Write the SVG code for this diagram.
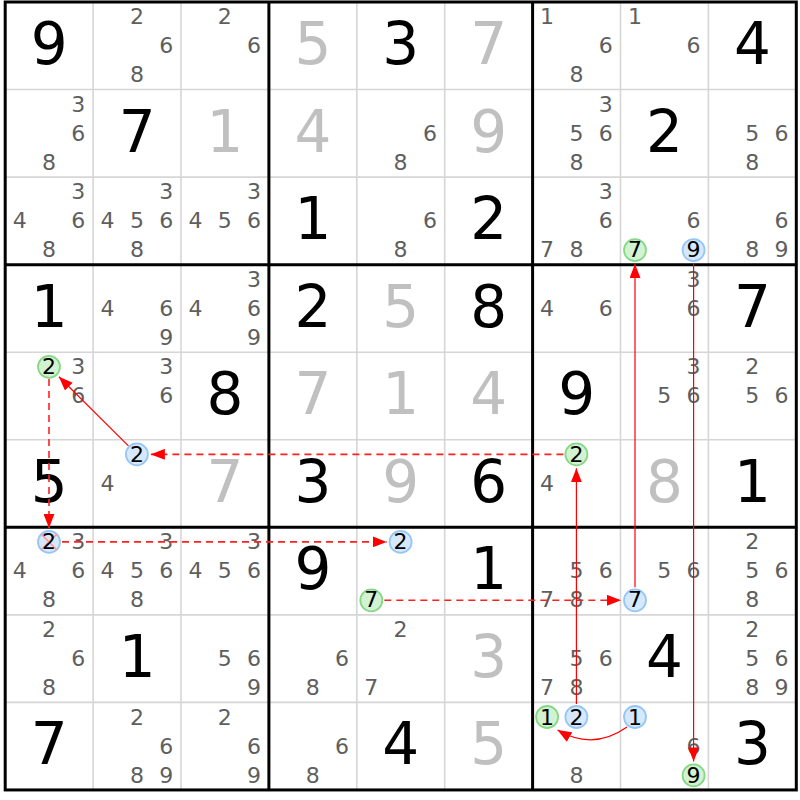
<svg xmlns="http://www.w3.org/2000/svg" width="800" height="800" viewBox="0 0 800 800">
<style>
text{font-family:"DejaVu Sans",Verdana,sans-serif;text-anchor:middle}
.g{font-size:58px;fill:#000}
.s{font-size:58px;fill:#c0c0c0}
.c{font-size:22px;fill:#5e5e5e}
.k{font-size:22px;fill:#000}
.cg{fill:#d2f2d2;stroke:#86d886;stroke-width:1.8}
.cb{fill:#d6e9fc;stroke:#96c6f6;stroke-width:1.8}
.thin{stroke:#d6d6d6;stroke-width:1.6}
.thick{stroke:#000;stroke-width:3}
.x{stroke:#ff9a9a;stroke-width:1.6}
.a{fill:none;stroke:#ff0000;stroke-width:1.2}
.d{fill:none;stroke:#ff2020;stroke-width:1.6;stroke-dasharray:7 5}
</style>
<defs>
<marker id="ah" markerUnits="userSpaceOnUse" markerWidth="14" markerHeight="11" refX="14" refY="5.5" orient="auto"><path d="M0,0 L14,5.5 L0,11 z" fill="#ff0000"/></marker>
</defs>
<rect width="800" height="800" fill="#fff"/>
<g id="grid">
<path class="thin" d="M93.1,2V790M181,2V790M356.8,2V790M444.7,2V790M620.5,2V790M708.4,2V790M5.2,89.55H796.3M5.2,177.1H796.3M5.2,352.2H796.3M5.2,439.75H796.3M5.2,614.85H796.3M5.2,702.4H796.3"/>
<path class="thick" d="M268.9,2V790M532.6,2V790M5.2,264.65H796.3M5.2,527.3H796.3"/>
<rect class="thick" x="5.2" y="2" width="791.1" height="787.95" fill="none"/>
</g>
<g id="r0">
<g id="r0c0" transform="translate(5.2,2)"><text class="g" x="44" y="62">9</text></g>
<g id="r0c1" transform="translate(93.1,2)"><text class="c" x="43.8" y="22.2">2</text><text class="c" x="73.1" y="51.2">6</text><text class="c" x="43.8" y="80.2">8</text></g>
<g id="r0c2" transform="translate(181,2)"><text class="c" x="43.8" y="22.2">2</text><text class="c" x="73.1" y="51.2">6</text></g>
<g id="r0c3" transform="translate(268.9,2)"><text class="s" x="44" y="62">5</text></g>
<g id="r0c4" transform="translate(356.8,2)"><text class="g" x="44" y="62">3</text></g>
<g id="r0c5" transform="translate(444.7,2)"><text class="s" x="44" y="62">7</text></g>
<g id="r0c6" transform="translate(532.6,2)"><text class="c" x="14.5" y="22.2">1</text><text class="c" x="73.1" y="51.2">6</text><text class="c" x="43.8" y="80.2">8</text></g>
<g id="r0c7" transform="translate(620.5,2)"><text class="c" x="14.5" y="22.2">1</text><text class="c" x="73.1" y="51.2">6</text></g>
<g id="r0c8" transform="translate(708.4,2)"><text class="g" x="44" y="62">4</text></g>
</g>
<g id="r1">
<g id="r1c0" transform="translate(5.2,89.55)"><text class="c" x="73.1" y="22.2">3</text><text class="c" x="73.1" y="51.2">6</text><text class="c" x="43.8" y="80.2">8</text></g>
<g id="r1c1" transform="translate(93.1,89.55)"><text class="g" x="44" y="62">7</text></g>
<g id="r1c2" transform="translate(181,89.55)"><text class="s" x="44" y="62">1</text></g>
<g id="r1c3" transform="translate(268.9,89.55)"><text class="s" x="44" y="62">4</text></g>
<g id="r1c4" transform="translate(356.8,89.55)"><text class="c" x="73.1" y="51.2">6</text><text class="c" x="43.8" y="80.2">8</text></g>
<g id="r1c5" transform="translate(444.7,89.55)"><text class="s" x="44" y="62">9</text></g>
<g id="r1c6" transform="translate(532.6,89.55)"><text class="c" x="73.1" y="22.2">3</text><text class="c" x="43.8" y="51.2">5</text><text class="c" x="73.1" y="51.2">6</text><text class="c" x="43.8" y="80.2">8</text></g>
<g id="r1c7" transform="translate(620.5,89.55)"><text class="g" x="44" y="62">2</text></g>
<g id="r1c8" transform="translate(708.4,89.55)"><text class="c" x="43.8" y="51.2">5</text><text class="c" x="73.1" y="51.2">6</text><text class="c" x="43.8" y="80.2">8</text></g>
</g>
<g id="r2">
<g id="r2c0" transform="translate(5.2,177.1)"><text class="c" x="73.1" y="22.2">3</text><text class="c" x="14.5" y="51.2">4</text><text class="c" x="73.1" y="51.2">6</text><text class="c" x="43.8" y="80.2">8</text></g>
<g id="r2c1" transform="translate(93.1,177.1)"><text class="c" x="73.1" y="22.2">3</text><text class="c" x="14.5" y="51.2">4</text><text class="c" x="43.8" y="51.2">5</text><text class="c" x="73.1" y="51.2">6</text><text class="c" x="43.8" y="80.2">8</text></g>
<g id="r2c2" transform="translate(181,177.1)"><text class="c" x="73.1" y="22.2">3</text><text class="c" x="14.5" y="51.2">4</text><text class="c" x="43.8" y="51.2">5</text><text class="c" x="73.1" y="51.2">6</text></g>
<g id="r2c3" transform="translate(268.9,177.1)"><text class="g" x="44" y="62">1</text></g>
<g id="r2c4" transform="translate(356.8,177.1)"><text class="c" x="73.1" y="51.2">6</text><text class="c" x="43.8" y="80.2">8</text></g>
<g id="r2c5" transform="translate(444.7,177.1)"><text class="g" x="44" y="62">2</text></g>
<g id="r2c6" transform="translate(532.6,177.1)"><text class="c" x="73.1" y="22.2">3</text><text class="c" x="73.1" y="51.2">6</text><text class="c" x="14.5" y="80.2">7</text><text class="c" x="43.8" y="80.2">8</text></g>
<g id="r2c7" transform="translate(620.5,177.1)"><text class="c" x="73.1" y="51.2">6</text><circle class="cg" cx="14.5" cy="73" r="11"/><text class="k" x="14.5" y="80.2">7</text><circle class="cb" cx="73.1" cy="73" r="11"/><text class="k" x="73.1" y="80.2">9</text></g>
<g id="r2c8" transform="translate(708.4,177.1)"><text class="c" x="73.1" y="51.2">6</text><text class="c" x="43.8" y="80.2">8</text><text class="c" x="73.1" y="80.2">9</text></g>
</g>
<g id="r3">
<g id="r3c0" transform="translate(5.2,264.65)"><text class="g" x="44" y="62">1</text></g>
<g id="r3c1" transform="translate(93.1,264.65)"><text class="c" x="14.5" y="51.2">4</text><text class="c" x="73.1" y="51.2">6</text><text class="c" x="73.1" y="80.2">9</text></g>
<g id="r3c2" transform="translate(181,264.65)"><text class="c" x="73.1" y="22.2">3</text><text class="c" x="14.5" y="51.2">4</text><text class="c" x="73.1" y="51.2">6</text><text class="c" x="73.1" y="80.2">9</text></g>
<g id="r3c3" transform="translate(268.9,264.65)"><text class="g" x="44" y="62">2</text></g>
<g id="r3c4" transform="translate(356.8,264.65)"><text class="s" x="44" y="62">5</text></g>
<g id="r3c5" transform="translate(444.7,264.65)"><text class="g" x="44" y="62">8</text></g>
<g id="r3c6" transform="translate(532.6,264.65)"><text class="c" x="14.5" y="51.2">4</text><text class="c" x="73.1" y="51.2">6</text></g>
<g id="r3c7" transform="translate(620.5,264.65)"><text class="c" x="73.1" y="22.2">3</text><text class="c" x="73.1" y="51.2">6</text></g>
<g id="r3c8" transform="translate(708.4,264.65)"><text class="g" x="44" y="62">7</text></g>
</g>
<g id="r4">
<g id="r4c0" transform="translate(5.2,352.2)"><circle class="cg" cx="43.8" cy="14.6" r="11"/><text class="k" x="43.8" y="22.2">2</text><text class="c" x="73.1" y="22.2">3</text><text class="c" x="73.1" y="51.2">6</text></g>
<g id="r4c1" transform="translate(93.1,352.2)"><text class="c" x="73.1" y="22.2">3</text><text class="c" x="73.1" y="51.2">6</text></g>
<g id="r4c2" transform="translate(181,352.2)"><text class="g" x="44" y="62">8</text></g>
<g id="r4c3" transform="translate(268.9,352.2)"><text class="s" x="44" y="62">7</text></g>
<g id="r4c4" transform="translate(356.8,352.2)"><text class="s" x="44" y="62">1</text></g>
<g id="r4c5" transform="translate(444.7,352.2)"><text class="s" x="44" y="62">4</text></g>
<g id="r4c6" transform="translate(532.6,352.2)"><text class="g" x="44" y="62">9</text></g>
<g id="r4c7" transform="translate(620.5,352.2)"><text class="c" x="73.1" y="22.2">3</text><text class="c" x="43.8" y="51.2">5</text><text class="c" x="73.1" y="51.2">6</text></g>
<g id="r4c8" transform="translate(708.4,352.2)"><text class="c" x="43.8" y="22.2">2</text><text class="c" x="43.8" y="51.2">5</text><text class="c" x="73.1" y="51.2">6</text></g>
</g>
<g id="r5">
<g id="r5c0" transform="translate(5.2,439.75)"><text class="g" x="44" y="62">5</text></g>
<g id="r5c1" transform="translate(93.1,439.75)"><circle class="cb" cx="43.8" cy="14.6" r="11"/><text class="k" x="43.8" y="22.2">2</text><text class="c" x="14.5" y="51.2">4</text></g>
<g id="r5c2" transform="translate(181,439.75)"><text class="s" x="44" y="62">7</text></g>
<g id="r5c3" transform="translate(268.9,439.75)"><text class="g" x="44" y="62">3</text></g>
<g id="r5c4" transform="translate(356.8,439.75)"><text class="s" x="44" y="62">9</text></g>
<g id="r5c5" transform="translate(444.7,439.75)"><text class="g" x="44" y="62">6</text></g>
<g id="r5c6" transform="translate(532.6,439.75)"><circle class="cg" cx="43.8" cy="14.6" r="11"/><text class="k" x="43.8" y="22.2">2</text><text class="c" x="14.5" y="51.2">4</text></g>
<g id="r5c7" transform="translate(620.5,439.75)"><text class="s" x="44" y="62">8</text></g>
<g id="r5c8" transform="translate(708.4,439.75)"><text class="g" x="44" y="62">1</text></g>
</g>
<g id="r6">
<g id="r6c0" transform="translate(5.2,527.3)"><circle class="cb" cx="43.8" cy="14.6" r="11"/><path class="x" d="M36,6.8L51.6,22.4M51.6,6.8L36,22.4"/><text class="k" x="43.8" y="22.2">2</text><text class="c" x="73.1" y="22.2">3</text><text class="c" x="14.5" y="51.2">4</text><text class="c" x="73.1" y="51.2">6</text><text class="c" x="43.8" y="80.2">8</text></g>
<g id="r6c1" transform="translate(93.1,527.3)"><text class="c" x="73.1" y="22.2">3</text><text class="c" x="14.5" y="51.2">4</text><text class="c" x="43.8" y="51.2">5</text><text class="c" x="73.1" y="51.2">6</text><text class="c" x="43.8" y="80.2">8</text></g>
<g id="r6c2" transform="translate(181,527.3)"><text class="c" x="73.1" y="22.2">3</text><text class="c" x="14.5" y="51.2">4</text><text class="c" x="43.8" y="51.2">5</text><text class="c" x="73.1" y="51.2">6</text></g>
<g id="r6c3" transform="translate(268.9,527.3)"><text class="g" x="44" y="62">9</text></g>
<g id="r6c4" transform="translate(356.8,527.3)"><circle class="cb" cx="43.8" cy="14.6" r="11"/><text class="k" x="43.8" y="22.2">2</text><circle class="cg" cx="14.5" cy="73" r="11"/><text class="k" x="14.5" y="80.2">7</text></g>
<g id="r6c5" transform="translate(444.7,527.3)"><text class="g" x="44" y="62">1</text></g>
<g id="r6c6" transform="translate(532.6,527.3)"><text class="c" x="43.8" y="51.2">5</text><text class="c" x="73.1" y="51.2">6</text><text class="c" x="14.5" y="80.2">7</text><text class="c" x="43.8" y="80.2">8</text></g>
<g id="r6c7" transform="translate(620.5,527.3)"><text class="c" x="43.8" y="51.2">5</text><text class="c" x="73.1" y="51.2">6</text><circle class="cb" cx="14.5" cy="73" r="11"/><text class="k" x="14.5" y="80.2">7</text></g>
<g id="r6c8" transform="translate(708.4,527.3)"><text class="c" x="43.8" y="22.2">2</text><text class="c" x="43.8" y="51.2">5</text><text class="c" x="73.1" y="51.2">6</text><text class="c" x="43.8" y="80.2">8</text></g>
</g>
<g id="r7">
<g id="r7c0" transform="translate(5.2,614.85)"><text class="c" x="43.8" y="22.2">2</text><text class="c" x="73.1" y="51.2">6</text><text class="c" x="43.8" y="80.2">8</text></g>
<g id="r7c1" transform="translate(93.1,614.85)"><text class="g" x="44" y="62">1</text></g>
<g id="r7c2" transform="translate(181,614.85)"><text class="c" x="43.8" y="51.2">5</text><text class="c" x="73.1" y="51.2">6</text><text class="c" x="73.1" y="80.2">9</text></g>
<g id="r7c3" transform="translate(268.9,614.85)"><text class="c" x="73.1" y="51.2">6</text><text class="c" x="43.8" y="80.2">8</text></g>
<g id="r7c4" transform="translate(356.8,614.85)"><text class="c" x="43.8" y="22.2">2</text><text class="c" x="14.5" y="80.2">7</text></g>
<g id="r7c5" transform="translate(444.7,614.85)"><text class="s" x="44" y="62">3</text></g>
<g id="r7c6" transform="translate(532.6,614.85)"><text class="c" x="43.8" y="51.2">5</text><text class="c" x="73.1" y="51.2">6</text><text class="c" x="14.5" y="80.2">7</text><text class="c" x="43.8" y="80.2">8</text></g>
<g id="r7c7" transform="translate(620.5,614.85)"><text class="g" x="44" y="62">4</text></g>
<g id="r7c8" transform="translate(708.4,614.85)"><text class="c" x="43.8" y="22.2">2</text><text class="c" x="43.8" y="51.2">5</text><text class="c" x="73.1" y="51.2">6</text><text class="c" x="43.8" y="80.2">8</text><text class="c" x="73.1" y="80.2">9</text></g>
</g>
<g id="r8">
<g id="r8c0" transform="translate(5.2,702.4)"><text class="g" x="44" y="62">7</text></g>
<g id="r8c1" transform="translate(93.1,702.4)"><text class="c" x="43.8" y="22.2">2</text><text class="c" x="73.1" y="51.2">6</text><text class="c" x="43.8" y="80.2">8</text><text class="c" x="73.1" y="80.2">9</text></g>
<g id="r8c2" transform="translate(181,702.4)"><text class="c" x="43.8" y="22.2">2</text><text class="c" x="73.1" y="51.2">6</text><text class="c" x="73.1" y="80.2">9</text></g>
<g id="r8c3" transform="translate(268.9,702.4)"><text class="c" x="73.1" y="51.2">6</text><text class="c" x="43.8" y="80.2">8</text></g>
<g id="r8c4" transform="translate(356.8,702.4)"><text class="g" x="44" y="62">4</text></g>
<g id="r8c5" transform="translate(444.7,702.4)"><text class="s" x="44" y="62">5</text></g>
<g id="r8c6" transform="translate(532.6,702.4)"><circle class="cg" cx="14.5" cy="14.6" r="11"/><text class="k" x="14.5" y="22.2">1</text><circle class="cb" cx="43.8" cy="14.6" r="11"/><text class="k" x="43.8" y="22.2">2</text><text class="c" x="43.8" y="80.2">8</text></g>
<g id="r8c7" transform="translate(620.5,702.4)"><circle class="cb" cx="14.5" cy="14.6" r="11"/><text class="k" x="14.5" y="22.2">1</text><text class="c" x="73.1" y="51.2">6</text><circle class="cg" cx="73.1" cy="73" r="11"/><text class="k" x="73.1" y="80.2">9</text></g>
<g id="r8c8" transform="translate(708.4,702.4)"><text class="g" x="44" y="62">3</text></g>
</g>
<g id="connectors">
<path class="a" d="M128.4,445.9L58.9,376.7" marker-end="url(#ah)"/>
<path class="d" d="M563.4,454.35H150.9" marker-end="url(#ah)"/>
<path class="d" d="M49,379V527.9" marker-end="url(#ah)"/>
<path class="d" d="M62,541.9H386.6" marker-end="url(#ah)"/>
<path class="d" d="M384.3,600.3H621" marker-end="url(#ah)"/>
<path class="a" d="M635,587.3V264.1" marker-end="url(#ah)"/>
<path class="a" d="M693.6,263.1V761.4" marker-end="url(#ah)"/>
<path class="a" d="M576.4,704V468.35" marker-end="url(#ah)"/>
<path class="a" d="M627,727Q593,751 557.5,730" marker-end="url(#ah)"/>
</g>
</svg>
